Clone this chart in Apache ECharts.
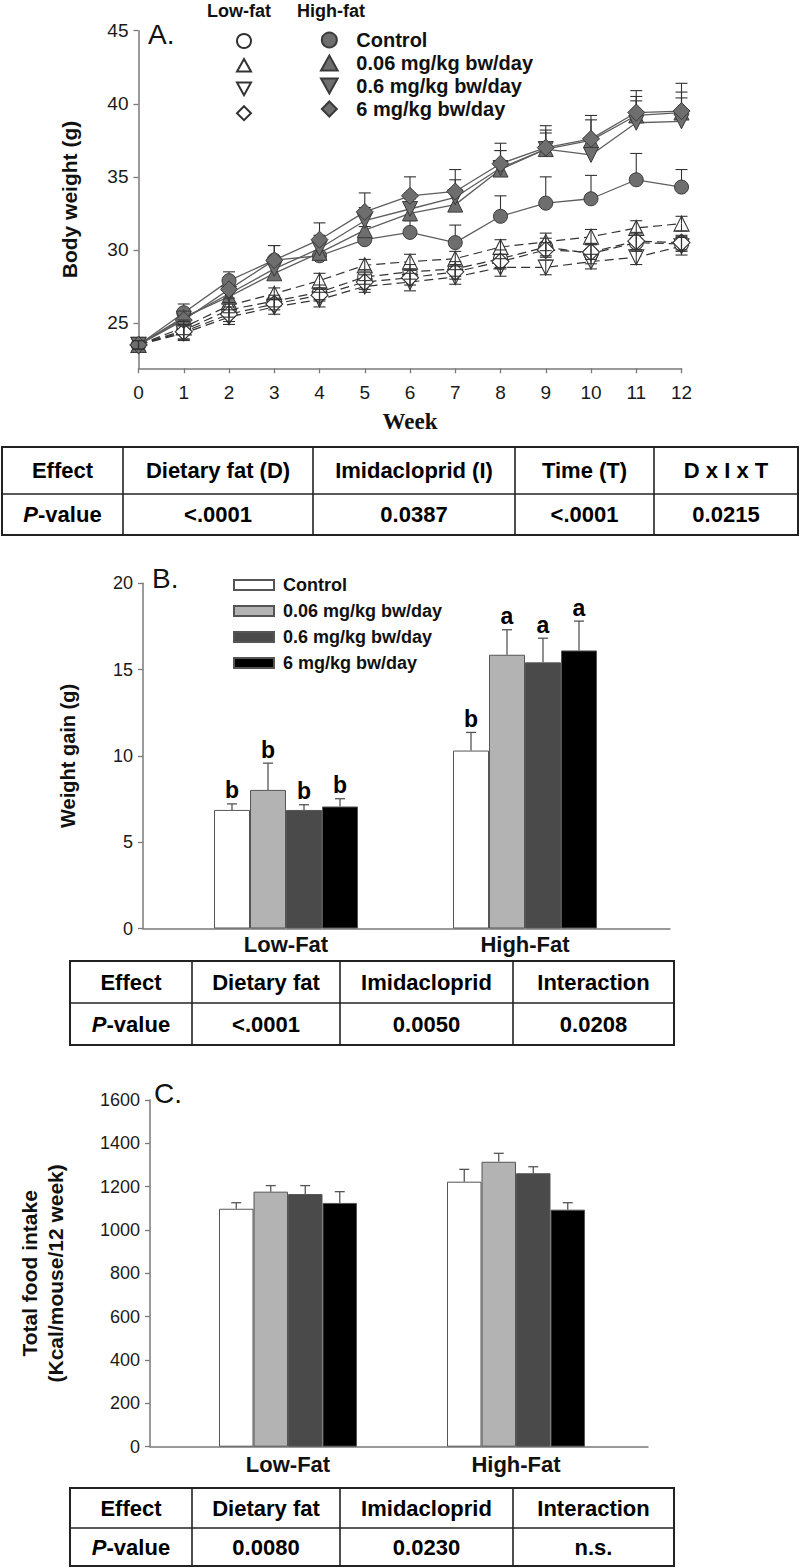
<!DOCTYPE html>
<html><head><meta charset="utf-8">
<script src="https://cdn.jsdelivr.net/npm/echarts@6/dist/echarts.min.js"></script>
<style>html,body{margin:0;padding:0;background:#fff}#c{width:800px;height:1568px}</style>
</head><body><div id="c"></div>
<script>
// ---------- Panel A data ----------
const weeks = [0,1,2,3,4,5,6,7,8,9,10,11,12];
const hfControl = [23.5,25.7,27.9,29.3,29.6,30.7,31.2,30.5,32.3,33.2,33.5,34.8,34.3];
const hf006     = [23.5,25.4,26.8,28.4,29.8,31.35,32.5,33.1,35.5,36.9,37.5,39.2,39.4];
const hf06      = [23.5,25.3,27.0,28.7,30.1,32.0,32.8,33.6,35.6,36.9,36.5,38.7,38.8];
const hf6       = [23.5,25.2,27.3,29.3,30.7,32.6,33.7,34.0,35.9,37.0,37.6,39.4,39.5];
const lfControl = [23.5,24.5,25.9,26.5,27.1,28.15,28.5,28.7,29.4,30.2,29.75,30.5,30.4];
const lf006     = [23.5,24.7,26.2,27.0,27.9,28.95,29.2,29.4,30.2,30.55,30.9,31.5,31.8];
const lf06      = [23.5,24.3,25.4,26.1,26.6,27.5,27.8,28.15,28.8,28.8,29.2,29.5,30.25];
const lf6       = [23.5,24.4,25.6,26.3,26.9,27.8,28.1,28.5,29.2,30.0,29.85,30.6,30.5];
const hfControlErr = [0.3,0.6,0.6,1.0,0.8,0.9,0.8,1.2,1.4,1.8,1.6,1.8,1.2];
const hf006Err     = [0.3,0.5,0.6,0.8,0.9,1.0,1.0,1.1,1.3,1.3,1.4,1.3,1.4];
const hf06Err      = [0.3,0.5,0.6,0.7,0.9,0.9,1.1,1.2,1.2,1.1,1.2,1.5,1.6];
const hf6Err       = [0.3,0.6,0.8,1.0,1.15,1.3,1.3,1.5,1.4,1.5,1.6,1.5,1.9];
const lfControlErr = [0.3,0.6,0.5,0.4,0.5,0.5,0.5,0.5,0.6,0.6,0.7,0.6,0.5];
const lf006Err     = [0.3,0.5,0.5,0.4,0.5,0.4,0.5,0.5,0.5,0.6,0.5,0.5,0.5];
const lf06Err      = [0.3,0.5,0.5,0.5,0.5,0.4,0.6,0.5,0.6,0.5,0.5,0.5,0.6];
const lf6Err       = [0.3,0.5,0.5,0.4,0.4,0.5,0.5,0.5,0.5,0.5,0.5,0.6,0.5];
const doseNames = ['Control','0.06 mg/kg bw/day','0.6 mg/kg bw/day','6 mg/kg bw/day'];
const aYTicks = [25,30,35,40,45];

// ---------- Panel B data ----------
const dietCats = ['Low-Fat','High-Fat'];
const gainLow  = [6.87,8.03,6.87,7.07];
const gainHigh = [10.31,15.86,15.42,16.11];
const gainLowErr  = [0.35,1.55,0.3,0.45];
const gainHighErr = [1.05,1.45,1.4,1.7];
const gainLowLetters  = ['b','b','b','b'];
const gainHighLetters = ['b','a','a','a'];

// ---------- Panel C data ----------
const foodLow  = [1098,1177,1166,1125];
const foodHigh = [1223,1315,1262,1094];
const foodLowErr  = [28,28,39,52];
const foodHighErr = [57,39,30,32];

// ---------- Tables ----------
const tableAHead = ['Effect','Dietary fat (D)','Imidacloprid (I)','Time (T)','D x I x T'];
const tableAVals = ['P-value','<.0001','0.0387','<.0001','0.0215'];
const tableBHead = ['Effect','Dietary fat','Imidacloprid','Interaction'];
const tableBVals = ['P-value','<.0001','0.0050','0.0208'];
const tableCHead = ['Effect','Dietary fat','Imidacloprid','Interaction'];
const tableCVals = ['P-value','0.0080','0.0230','n.s.'];

// ---------- styling ----------
const FF = '"Liberation Sans", Arial, sans-serif';
const AX = '#7a7a7a';
const barColors = ['#ffffff','#b3b3b3','#4a4a4a','#000000'];
const hfSymbols = ['circle','triangle','triangle','diamond'];
const hfRot = [0,0,180,0];
const hfSize = [14,15,15,17];
const legendIcons = ['circle','path://M5,0L10,9L0,9Z','path://M0,0L10,0L5,9Z','path://M5,0L10,5L5,10L0,5Z'];

const chart = echarts.init(document.getElementById('c'), null, {renderer:'svg', width:800, height:1568});

function lineSeries(name, vals, hf, k) {
  return {
    type:'line', name, xAxisIndex:0, yAxisIndex:0,
    data: weeks.map((w,i)=>[w, vals[i]]),
    symbol: hfSymbols[k], symbolRotate: hfRot[k], symbolSize: hfSize[k],
    itemStyle: hf ? {color:'#6e6e6e', borderColor:'#3a3a3a', borderWidth:1}
                  : {color:'#ffffff', borderColor:'#333', borderWidth:1.1},
    lineStyle: hf ? {color:'#5e5e5e', width:1.3, type:'solid'}
                  : {color:'#333', width:1.2, type:[9,5]},
    z: hf ? 4 : 3, silent:true, animation:false
  };
}
function lineErr(vals, errs, up, down, z) {
  return {
    type:'custom', xAxisIndex:0, yAxisIndex:0, z, silent:true, animation:false,
    data: weeks.map((w,i)=>[w, vals[i], errs[i]]),
    renderItem: (p, api) => {
      const x = api.value(0), v = api.value(1), e = api.value(2);
      const c = api.coord([x, v]);
      const ch = [];
      const st = {stroke:'#333', lineWidth:1.1};
      if (up) {
        const t = api.coord([x, v+e]);
        ch.push({type:'line', shape:{x1:c[0],y1:c[1],x2:t[0],y2:t[1]}, style:st});
        ch.push({type:'line', shape:{x1:t[0]-6,y1:t[1],x2:t[0]+6,y2:t[1]}, style:st});
      }
      if (down) {
        const b = api.coord([x, v-e]);
        ch.push({type:'line', shape:{x1:c[0],y1:c[1],x2:b[0],y2:b[1]}, style:st});
        ch.push({type:'line', shape:{x1:b[0]-6,y1:b[1],x2:b[0]+6,y2:b[1]}, style:st});
      }
      return {type:'group', children:ch};
    }
  };
}
function barSeries(prefix, k, low, high, xi, yi, bw) {
  return {
    type:'bar', name: prefix + doseNames[k], xAxisIndex:xi, yAxisIndex:yi,
    data:[low[k], high[k]], barWidth: bw, barGap:'0%',
    itemStyle:{color: barColors[k], borderColor:'#555', borderWidth:1},
    silent:true, animation:false, z:2
  };
}
function barErr(k, low, high, lowE, highE, lowL, highL, xi, yi, bw) {
  return {
    type:'custom', xAxisIndex:xi, yAxisIndex:yi, z:3, silent:true, animation:false,
    data:[[0, low[k], lowE[k]], [1, high[k], highE[k]]],
    renderItem: (p, api) => {
      const ci = api.value(0), v = api.value(1), e = api.value(2);
      const lbl = (p.dataIndex === 0 ? (lowL||[]) : (highL||[]))[k] || '';
      const off = (k - 1.5) * bw;
      const c = api.coord([ci, v]); const t = api.coord([ci, v+e]);
      const x = c[0] + off;
      const st = {stroke:'#555', lineWidth:1.3};
      const ch = [
        {type:'line', shape:{x1:x,y1:c[1],x2:x,y2:t[1]}, style:st},
        {type:'line', shape:{x1:x-5,y1:t[1],x2:x+5,y2:t[1]}, style:st}
      ];
      if (lbl) ch.push({type:'text', style:{text:lbl, x:x, y:t[1]-2, align:'center', verticalAlign:'bottom', font:'bold 23px '+FF, fill:'#000'}});
      return {type:'group', children:ch};
    }
  };
}
function table(xs, ys, head, vals, fs) {
  const els = [];
  const x0 = xs[0], x1 = xs[xs.length-1];
  const ln = {stroke:'#222', lineWidth:1.6};
  els.push({type:'rect', shape:{x:x0,y:ys[0],width:x1-x0,height:ys[2]-ys[0]}, style:{fill:'#fff', stroke:'#222', lineWidth:2}, z:0});
  els.push({type:'line', shape:{x1:x0,y1:ys[1],x2:x1,y2:ys[1]}, style:ln, z:1});
  for (let i=1;i<xs.length-1;i++) els.push({type:'line', shape:{x1:xs[i],y1:ys[0],x2:xs[i],y2:ys[2]}, style:ln, z:1});
  const font = 'bold '+fs+'px '+FF;
  head.forEach((h,i)=>els.push({type:'text', z:2, style:{text:h, x:(xs[i]+xs[i+1])/2, y:(ys[0]+ys[1])/2, align:'center', verticalAlign:'middle', font, fill:'#000'}}));
  vals.forEach((h,i)=>{
    const txt = (i===0 && h.indexOf('P-')===0) ? '{i|P}-value' : h;
    els.push({type:'text', z:2, style:{text:txt, x:(xs[i]+xs[i+1])/2, y:(ys[1]+ys[2])/2, align:'center', verticalAlign:'middle', font, fill:'#000',
      rich:{i:{fontStyle:'italic', fontWeight:'bold', fontSize:fs, fontFamily:FF, fill:'#000'}}}});
  });
  return els;
}

const axisLine = {show:true, lineStyle:{color:AX, width:1.5}};
const tick = {show:true, length:5, lineStyle:{color:AX, width:1.3}};
const tickLbl = {color:'#1a1a1a', fontSize:18, fontFamily:FF};
const nameSty = {color:'#111', fontSize:20, fontWeight:'bold', fontFamily:FF};
const plain = v => String(v);

const lfSeries = [lfControl, lf006, lf06, lf6];
const hfSeries = [hfControl, hf006, hf06, hf6];
const lfErrs = [lfControlErr, lf006Err, lf06Err, lf6Err];
const hfErrs = [hfControlErr, hf006Err, hf06Err, hf6Err];

const series = [];
lfSeries.forEach((s,k)=>series.push(lineSeries('LF '+doseNames[k], s, false, k)));
hfSeries.forEach((s,k)=>series.push(lineSeries(doseNames[k], s, true, k)));
lfSeries.forEach((s,k)=>series.push(lineErr(s, lfErrs[k], true, true, 5)));
hfSeries.forEach((s,k)=>series.push(lineErr(s, hfErrs[k], true, false, 2)));
for (let k=0;k<4;k++) series.push(barSeries('B ', k, gainLow, gainHigh, 1, 1, 36));
for (let k=0;k<4;k++) series.push(barErr(k, gainLow, gainHigh, gainLowErr, gainHighErr, gainLowLetters, gainHighLetters, 1, 1, 36));
for (let k=0;k<4;k++) series.push(barSeries('C ', k, foodLow, foodHigh, 3, 3, 34.5));
for (let k=0;k<4;k++) series.push(barErr(k, foodLow, foodHigh, foodLowErr, foodHighErr, null, null, 3, 3, 34.5));

const option = {
  animation:false,
  backgroundColor:'#fff',
  title:[
    {text:'A.', left:148, top:20, padding:0, textStyle:{fontSize:28, fontWeight:'normal', fontFamily:FF, color:'#111'}},
    {text:'Low-fat', left:207, top:2, padding:0, textStyle:{fontSize:18, fontWeight:'bold', fontFamily:FF, color:'#111'}},
    {text:'High-fat', left:297, top:2, padding:0, textStyle:{fontSize:18, fontWeight:'bold', fontFamily:FF, color:'#111'}},
    {text:'B.', left:152, top:564, padding:0, textStyle:{fontSize:28, fontWeight:'normal', fontFamily:FF, color:'#111'}},
    {text:'C.', left:154, top:1079, padding:0, textStyle:{fontSize:28, fontWeight:'normal', fontFamily:FF, color:'#111'}}
  ],
  legend:[
    {data: doseNames.map((n,k)=>({name:'LF '+n, icon:legendIcons[k]})), orient:'vertical', left:231, top:28,
     itemWidth:14, itemHeight:14, itemGap:9, formatter:()=>'', selectedMode:false, textStyle:{fontSize:1}},
    {data: doseNames.map((n,k)=>({name:n, icon:legendIcons[k]})), orient:'vertical', left:315, top:25,
     itemWidth:44, itemHeight:15, itemGap:3, symbolKeepAspect:true, selectedMode:false,
     textStyle:{fontSize:20, fontWeight:'bold', fontFamily:FF, color:'#111'}},
    {data: doseNames.map(n=>({name:'B '+n, icon:'path://M0,0H40V10H0Z'})), orient:'vertical', left:228, top:571,
     itemWidth:48, itemHeight:10, itemGap:8, symbolKeepAspect:true, selectedMode:false, formatter:n=>n.replace(/^B /,''),
     textStyle:{fontSize:18, fontWeight:'bold', fontFamily:FF, color:'#111'}}
  ],
  grid:[
    {left:138.5, top:30.7, width:543, height:337.6},
    {left:166.5, top:583.3, width:478, height:345.2},
    {left:143, top:583.3, width:527, height:345.2},
    {left:174, top:1100, width:456, height:346.7},
    {left:150, top:1100, width:498, height:346.7}
  ],
  xAxis:[
    {gridIndex:0, type:'value', min:0, max:12, interval:1, axisLine, axisTick:tick, splitLine:{show:false},
     axisLabel:Object.assign({margin:15}, tickLbl, {fontSize:19}),
     name:'Week', nameLocation:'middle', nameGap:42, nameTextStyle:{fontSize:23, fontWeight:'bold', fontFamily:'"Liberation Serif", "Times New Roman", serif', color:'#111'}},
    {gridIndex:1, type:'category', data:dietCats, axisLine:{show:false}, axisTick:{show:false},
     axisLabel:{margin:5, fontSize:22, fontWeight:'bold', fontFamily:FF, color:'#111'}},
    {gridIndex:2, type:'value', min:0, max:1, axisLine, axisTick:{show:false}, axisLabel:{show:false}, splitLine:{show:false}},
    {gridIndex:3, type:'category', data:dietCats, axisLine:{show:false}, axisTick:{show:false},
     axisLabel:{margin:7, fontSize:22, fontWeight:'bold', fontFamily:FF, color:'#111'}},
    {gridIndex:4, type:'value', min:0, max:1, axisLine, axisTick:{show:false}, axisLabel:{show:false}, splitLine:{show:false}}
  ],
  yAxis:[
    {gridIndex:0, type:'value', min:21.9, max:45, axisLine, splitLine:{show:false},
     axisTick:Object.assign({customValues:aYTicks}, tick), axisLabel:Object.assign({customValues:aYTicks, margin:10}, tickLbl, {fontSize:19}),
     name:'Body weight (g)', nameLocation:'middle', nameGap:59, nameTextStyle:Object.assign({}, nameSty, {fontSize:21})},
    {gridIndex:1, type:'value', min:0, max:20, show:false},
    {gridIndex:2, type:'value', min:0, max:20, interval:5, axisLine, axisTick:tick, splitLine:{show:false},
     axisLabel:Object.assign({margin:10, formatter:plain}, tickLbl),
     name:'Weight gain (g)', nameLocation:'middle', nameGap:65, nameTextStyle:nameSty},
    {gridIndex:3, type:'value', min:0, max:1600, show:false},
    {gridIndex:4, type:'value', min:0, max:1600, interval:200, axisLine, axisTick:tick, splitLine:{show:false},
     axisLabel:Object.assign({margin:10, formatter:plain}, tickLbl),
     name:'Total food intake\n(Kcal/mouse/12 week)', nameLocation:'middle', nameGap:82,
     nameTextStyle:Object.assign({lineHeight:26}, nameSty, {fontSize:21})}
  ],
  series,
  graphic:[].concat(
    table([2,123,313,515,654,798],[447,494,535], tableAHead, tableAVals, 22),
    table([70,192,340,513,674],[961,1003,1045], tableBHead, tableBVals, 22),
    table([70,192,340,513,674],[1488,1528,1566], tableCHead, tableCVals, 22)
  )
};
chart.setOption(option);
</script></body></html>
